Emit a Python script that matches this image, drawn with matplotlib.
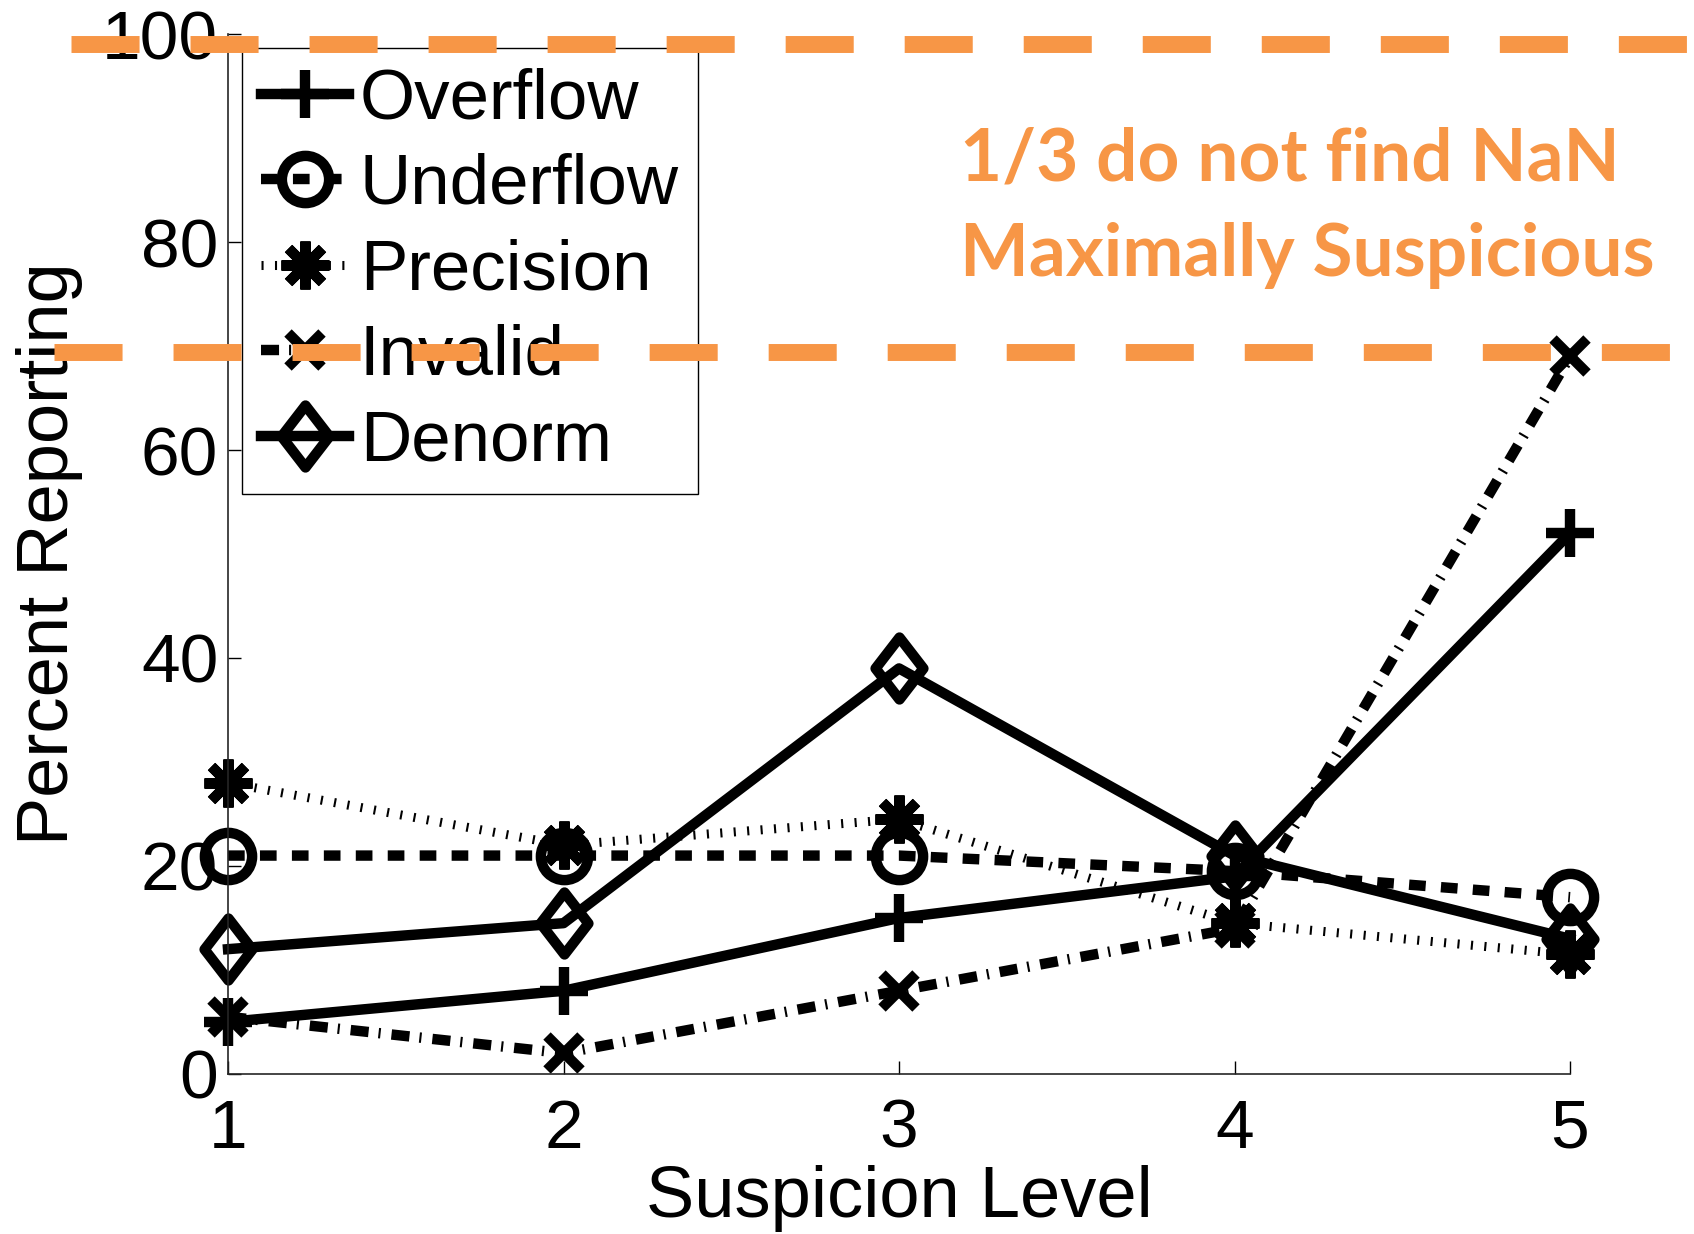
import matplotlib
matplotlib.use('Agg')
import matplotlib.pyplot as plt
from matplotlib.lines import Line2D
from matplotlib.path import Path

# data
levels = [1, 2, 3, 4, 5]
overflow = [5, 8, 15, 19, 52]
underflow = [21, 21, 21, 19.5, 17]
precision = [28, 22, 24.5, 14.5, 11.5]
invalid = [5.5, 2, 8, 14, 69]
denorm = [12, 14.5, 39, 21, 13]

yticks = [0, 20, 40, 60, 80, 100]
note_lines = ['1/3 do not find NaN', 'Maximally Suspicious']
note_levels = [99, 69.4]   # where the orange dashed lines sit
orange = '#F79646'

plt.rcParams['font.family'] = ['Liberation Sans', 'DejaVu Sans']
plt.rcParams['lines.scale_dashes'] = False

fig = plt.figure(figsize=(16.94, 12.34), dpi=100)
ax = fig.add_axes([0.1346, 0.1297, 0.7922, 0.8427])

# tall matlab-like diamond
diamond = Path([(0, 1), (0.772, 0), (0, -1), (-0.772, 0), (0, 1)], closed=True)

lw = 7.5
common = dict(color='k', mew=lw, mfc='none', clip_on=False)
ax.plot(levels, overflow, linestyle='-', lw=lw, marker='+', ms=34,
        label='Overflow', **common)
ax.plot(levels, underflow, linestyle=(0, (12, 11)), lw=lw, marker='o', ms=34,
        label='Underflow', **common)
ax.plot(levels, precision, linestyle=(0, (1.5, 8.2)), lw=6.5, marker=(8, 2, 0),
        ms=34.5, label='Precision', **common)
ax.plot(levels, invalid, linestyle=(0, (13, 7.2, 1.5, 7.9)), lw=lw, marker='x',
        ms=25, label='Invalid', **common)
ax.plot(levels, denorm, linestyle='-', lw=lw, marker=diamond, ms=44.6,
        label='Denorm', **common)

ax.set_xlim(1, 5)
ax.set_ylim(0, 100)
ax.set_xticks(levels)
ax.set_yticks(yticks)
ax.spines[['top', 'right']].set_visible(False)
for s in ('left', 'bottom'):
    ax.spines[s].set_linewidth(1.2)
    ax.spines[s].set_color('#262626')
ax.tick_params(direction='in', length=9.4, width=1, labelsize=50)
ax.tick_params(axis='x', pad=17)
ax.tick_params(axis='y', pad=7)

ax.set_xlabel('Suspicion Level', fontsize=52)
ax.xaxis.set_label_coords(0.5, -0.088)
ax.set_ylabel('Percent Reporting', fontsize=52)
ax.yaxis.set_label_coords(-0.108, 0.5)

leg = ax.legend(loc='upper left', bbox_to_anchor=(241.7 / 1694, 1 - 48.3 / 1234),
                bbox_transform=fig.transFigure, borderaxespad=0, fontsize=51,
                handlelength=1.24, handletextpad=0.16, labelspacing=0.275,
                borderpad=0.27, fancybox=False, framealpha=1, edgecolor='k',
                numpoints=1)
leg.get_frame().set_linewidth(1.0)

# orange annotation lines run past the axes to the figure edge
starts = [71 / 1694, 54 / 1694]
for lvl, x0 in zip(note_levels, starts):
    yf = ax.transData.transform((1, lvl))[1]
    yf = fig.transFigure.inverted().transform((0, yf))[1]
    fig.add_artist(Line2D([x0, 1], [yf, yf], transform=fig.transFigure,
                          color=orange, lw=12.2, linestyle=(0, (49, 36.7)),
                          zorder=10))

fig.text(0.567, 0.8541, note_lines[0], color=orange, fontsize=52.5,
         fontweight='bold', family='Lato', va='baseline', ha='left')
fig.text(0.567, 0.7766, note_lines[1], color=orange, fontsize=52.5,
         fontweight='bold', family='Lato', va='baseline', ha='left')

fig.savefig('out.png', dpi=100)
